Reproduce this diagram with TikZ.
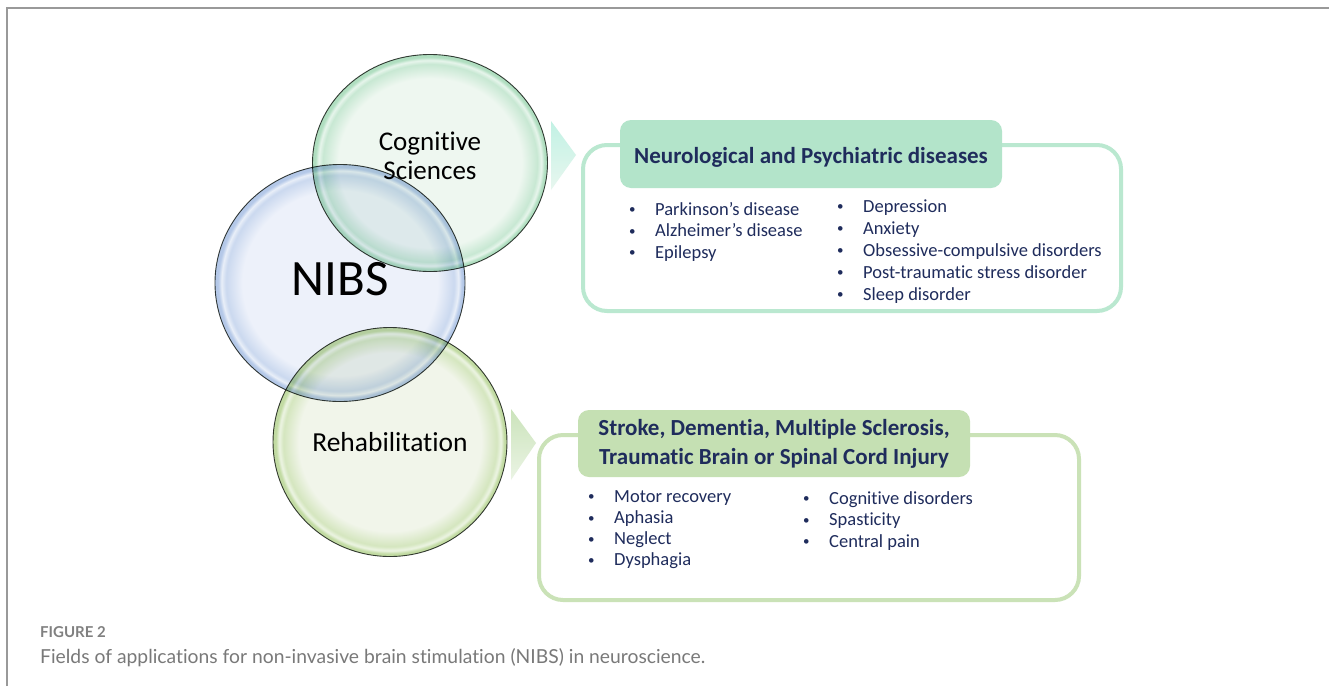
\documentclass[tikz,border=0pt]{standalone}
\usepackage{fontspec}
\setmainfont{Carlito}[Ligatures=NoCommon]
\newfontfamily\capfont{Lato}[Ligatures=NoCommon]
\usetikzlibrary{shapes.geometric,positioning}

\definecolor{nibsin}{HTML}{EDF1FA}
\definecolor{nibsrim}{HTML}{B4C8E8}
\definecolor{cogin}{HTML}{EEF7F0}
\definecolor{cogrim}{HTML}{B0DEC0}
\definecolor{rehabin}{HTML}{F1F5EA}
\definecolor{rehabrim}{HTML}{C2DBA3}
\definecolor{bubbleline}{HTML}{3A3F3A}
\definecolor{neurofill}{HTML}{B3E4CA}
\definecolor{neuroline}{HTML}{BAE8D0}
\definecolor{rehabfill}{HTML}{C5E0B3}
\definecolor{rehabline}{HTML}{CAE2B7}
\definecolor{listblue}{HTML}{1F2C5C}
\definecolor{capgray}{HTML}{6A6A6A}
\definecolor{framegray}{HTML}{999999}

% glassy rims for the three bubbles (edge of the bubble sits at 25bp)
\pgfdeclareradialshading{nibsglass}{\pgfpoint{0bp}{0bp}}{%
  color(0bp)=(nibsin); color(19.5bp)=(nibsin); color(22.8bp)=(nibsrim!70);
  color(23.7bp)=(nibsrim!30); color(24.4bp)=(nibsrim); color(50bp)=(nibsrim)}
\pgfdeclareradialshading{cogglass}{\pgfpoint{0bp}{0bp}}{%
  color(0bp)=(cogin); color(19.5bp)=(cogin); color(22.8bp)=(cogrim!70);
  color(23.7bp)=(cogrim!30); color(24.4bp)=(cogrim); color(50bp)=(cogrim)}
\pgfdeclareradialshading{rehabglass}{\pgfpoint{0bp}{0bp}}{%
  color(0bp)=(rehabin); color(19.5bp)=(rehabin); color(22.8bp)=(rehabrim!70);
  color(23.7bp)=(rehabrim!30); color(24.4bp)=(rehabrim); color(50bp)=(rehabrim)}

\newcommand\bul{\makebox[23pt][l]{\kern-3pt\raisebox{1.2pt}{\fontsize{13}{13}\selectfont\textbullet}}}

\tikzset{
  bubble/.style={ellipse, inner sep=0pt, draw=bubbleline, line width=0.9pt,
    blend mode=multiply},
  bubbletext/.style={inner sep=0pt, align=center,
    font=\fontsize{27}{29}\selectfont},
  panel/.style={rounded corners=24pt, line width=4pt, inner sep=0pt},
  header/.style={rounded corners=11pt, inner sep=0pt, align=center,
    text=listblue, font=\bfseries\fontsize{23}{29}\selectfont},
  item/.style={anchor=base west, inner sep=0pt, text=listblue,
    font=\fontsize{18.5}{21}\selectfont},
}

\begin{document}
\begin{tikzpicture}[x=1pt, y=-1pt]
  \useasboundingbox (0,0) rectangle (1329,686);
  \fill[white] (0,0) rectangle (1329,686);
  \draw[framegray, line width=2pt] (7,686) -- (7,8) -- (1329,8);

  % bubbles
  \node[bubble, shading=nibsglass, minimum width=250pt, minimum height=237pt]
    (nibs) at (340,283) {};
  \node[bubble, shading=cogglass, minimum width=235pt, minimum height=217pt]
    (cog) at (430,163) {};
  \node[bubble, shading=rehabglass, minimum width=234pt, minimum height=229pt]
    (rehab) at (390,442) {};
  \node[inner sep=0pt, font=\fontsize{51}{51}\selectfont]
    (nibstext) at ([yshift=4pt]nibs.center) {NIBS};
  \node[bubbletext] (cogtext) at ([yshift=7pt]cog.center) {Cognitive\\Sciences};
  \node[bubbletext, font=\fontsize{27.5}{29}\selectfont]
    (rehabtext) at (rehab.center) {Rehabilitation};

  % pointers
  \shade[top color=neurofill!85!cyan!60, bottom color=neurofill!30]
    (551,121) -- (576,155) -- (551,190) -- cycle;
  \shade[top color=rehabfill!90, bottom color=rehabfill!35]
    (511,409) -- (536,443) -- (511,480) -- cycle;

  % neurological panel
  \node[panel, draw=neuroline, minimum width=538pt, minimum height=166pt]
    (neuro) at (852,228) {};
  \node[header, fill=neurofill, minimum width=382pt, minimum height=68pt,
    text height=19pt, text depth=0pt]
    (neurohead) at (811,154) {Neurological and Psychiatric diseases};
  \foreach \txt [count=\i] in {Parkinson’s disease, Alzheimer’s disease, Epilepsy}
    \node[item] (neuroL\i) at (632,{193.5+21.5*\i}) {\bul\txt};
  \foreach \txt [count=\i] in {Depression, Anxiety, Obsessive-compulsive disorders,
      Post-traumatic stress disorder, Sleep disorder}
    \node[item] (neuroR\i) at (840,{190+22*\i}) {\bul\txt};

  % rehabilitation panel
  \node[panel, draw=rehabline, minimum width=540pt, minimum height=165pt]
    (rehabbox) at (809,517.5) {};
  \node[header, fill=rehabfill, minimum width=392pt, minimum height=67pt]
    (rehabhead) at (774,443.5)
    {Stroke, Dementia, Multiple Sclerosis,\\Traumatic Brain or Spinal Cord Injury};
  \foreach \txt [count=\i] in {Motor recovery, Aphasia, Neglect, Dysphagia}
    \node[item] (rehabL\i) at (591,{480.7+21.3*\i}) {\bul\txt};
  \foreach \txt [count=\i] in {Cognitive disorders, Spasticity, Central pain}
    \node[item] (rehabR\i) at (806,{482.5+21.5*\i}) {\bul\txt};

  % caption
  \node[anchor=base west, inner sep=0pt, text=capgray!85,
    font=\capfont\bfseries\fontsize{15}{17}\selectfont]
    (figlabel) at (40,637) {FIGURE 2};
  \node[anchor=base west, inner sep=0pt, text=capgray!90,
    font=\capfont\fontsize{19.3}{22}\selectfont]
    (figcaption) at (40,663)
    {Fields of applications for non-invasive brain stimulation (NIBS) in neuroscience.};
\end{tikzpicture}
\end{document}
